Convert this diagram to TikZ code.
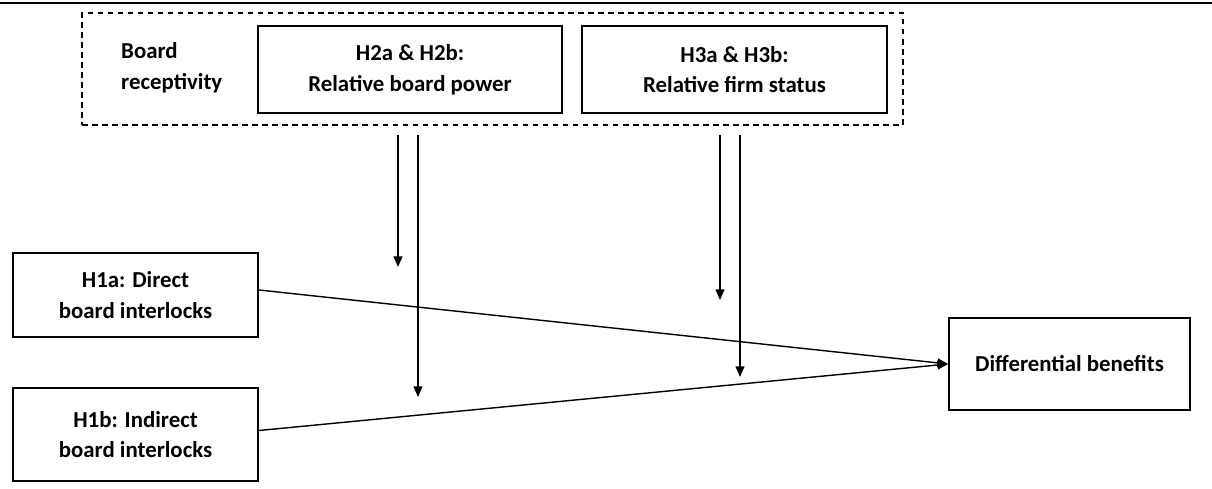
\documentclass[tikz,border=0pt]{standalone}
\usepackage{fontspec}
\setmainfont{Carlito}
\usetikzlibrary{arrows.meta}

\tikzset{
	box/.style={draw, line width=1.1pt, align=center, inner sep=0pt,
		font=\bfseries\fontsize{13}{17.5}\selectfont},
	groupbox/.style={draw, line width=0.9pt, dash pattern=on 3.2pt off 2.5pt},
	link/.style={line width=0.8pt},
	arr/.style={link, -{Triangle[length=6pt,width=5pt]}},
}

\begin{document}
\begin{tikzpicture}[x=0.02cm, y=-0.02cm]
	\useasboundingbox (0,0) rectangle (1212,489);
	
	%%% Рамки
	
	% Линия сверху
	\draw[line width=1.7pt] (0,3) -- (1212,3);
	
	% Восприимчивость совета
	\node[groupbox, minimum width=16.42cm, minimum height=2.24cm] (recept) at (492.5,69) {};
	\node[anchor=west, align=left, font=\bfseries\fontsize{13}{17.5}\selectfont] (receptlabel) at (115,68) {Board\\receptivity};
	\node[box, minimum width=6.08cm, minimum height=1.74cm] (power) at (410,69.5) {H2a \& H2b:\\Relative board power};
	\node[box, minimum width=6.1cm, minimum height=1.74cm] (status) at (734.5,69.5) {H3a \& H3b:\\Relative firm status};
	
	% Связи и результат
	\node[box, minimum width=4.9cm, minimum height=1.68cm] (direct) at (135.5,295) {H1a: Direct\\board interlocks};
	\node[box, minimum width=4.9cm, minimum height=1.86cm] (indirect) at (135.5,434.5) {H1b: Indirect\\board interlocks};
	\node[box, minimum width=4.82cm, minimum height=1.84cm] (benefits) at (1069.5,364) {Differential benefits};
	
	%%% Стрелки
	
	% Точки модераторов
	\coordinate (powA) at (398,135);
	\coordinate (powAend) at (398,267);
	\coordinate (powB) at (418,135);
	\coordinate (powBend) at (418,397);
	\coordinate (statA) at (720,135);
	\coordinate (statAend) at (720,300);
	\coordinate (statB) at (740,135);
	\coordinate (statBend) at (740,377);
	
	\draw[arr] (powA) -- (powAend);
	\draw[arr] (powB) -- (powBend);
	\draw[arr] (statA) -- (statAend);
	\draw[arr] (statB) -- (statBend);
	
	% Основные связи
	\draw[arr] ([yshift=0.1cm]direct.east) -- (benefits.west);
	\draw[arr] ([yshift=0.08cm]indirect.east) -- (benefits.west);
\end{tikzpicture}
\end{document}
